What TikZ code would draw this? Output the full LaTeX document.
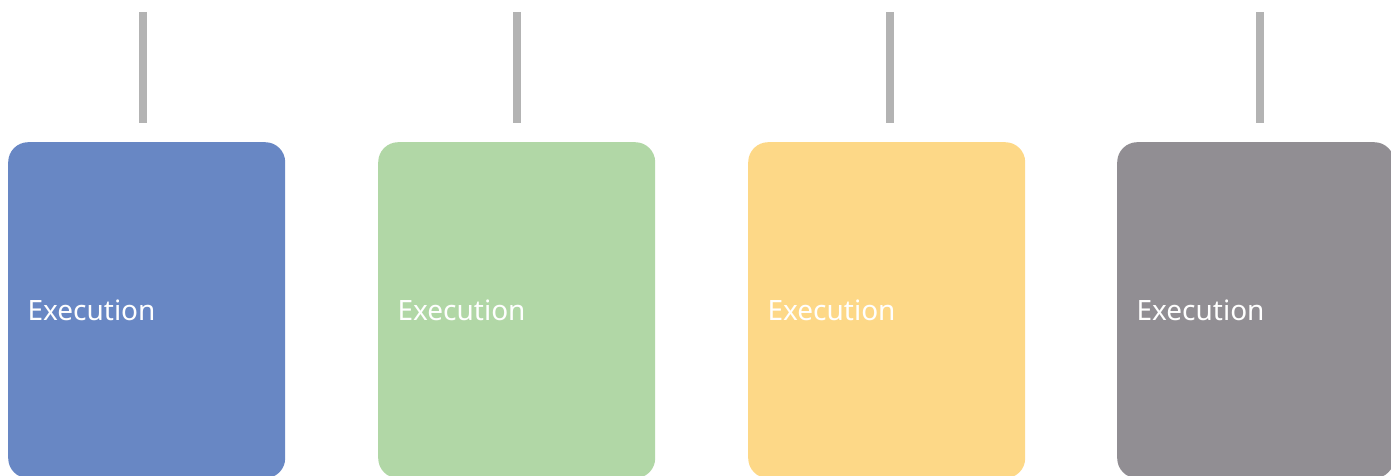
\documentclass[tikz,border=0pt]{standalone}
\usepackage{fontspec}
\setmainfont{Noto Sans}
\definecolor{stageblue}{HTML}{6887C4}
\definecolor{stagegreen}{HTML}{B1D7A6}
\definecolor{stageyellow}{HTML}{FDD887}
\definecolor{stagegrey}{HTML}{918E93}
\definecolor{stembar}{HTML}{B3B3B3}
\begin{document}
\begin{tikzpicture}[
    x=1pt, y=-1pt,
    stage/.style={rounded corners=20pt, minimum width=277pt, minimum height=336pt, inner sep=0pt},
    stem/.style={draw=stembar, line width=8pt},
    label/.style={text=white, font=\fontsize{28}{33}\selectfont, anchor=base west}
]

\useasboundingbox (0,0) rectangle (1391,476);

\foreach \i/\x/\c in {1/8/stageblue,2/378/stagegreen,3/748/stageyellow,4/1117/stagegrey}{
  \node[stage, fill=\c, anchor=north west] (box\i) at (\x,142) {};
  \node[label] (txt\i) at (\x+16,320) {Execution};
}

\foreach \i/\x in {1/143,2/517,3/890,4/1260}{
  \coordinate (top\i) at (\x,12);
  \coordinate (bot\i) at (\x,123);
  \draw[stem] (top\i) -- (bot\i);
}

\end{tikzpicture}
\end{document}
